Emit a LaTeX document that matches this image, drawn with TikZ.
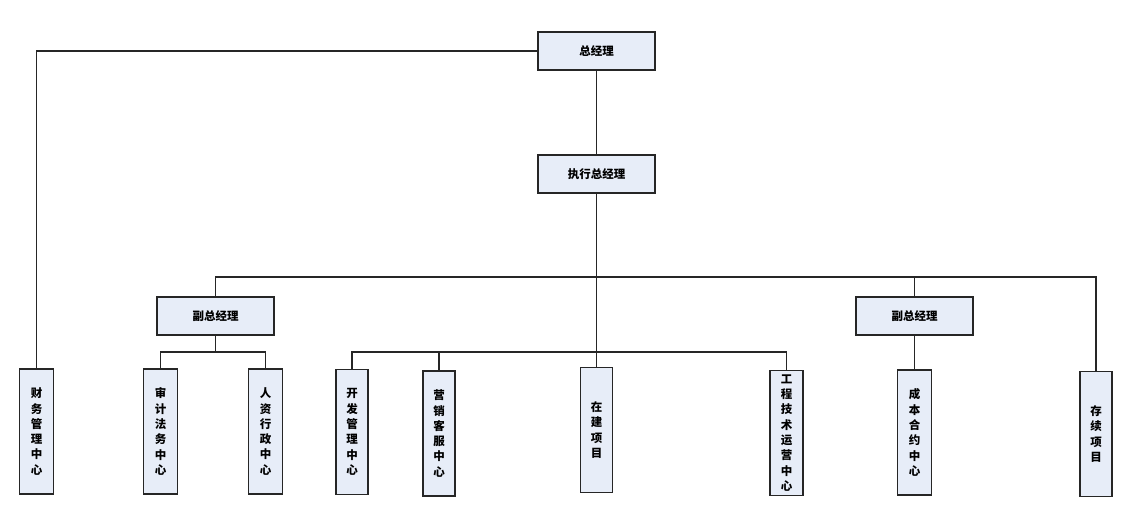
\documentclass[tikz,border=0pt]{standalone}
\usepackage{fontspec}
\newfontfamily\cjk{Noto Sans CJK SC}
\usetikzlibrary{positioning}
\definecolor{boxblue}{RGB}{231,237,248}
\tikzset{
  box/.style={draw=black!85, fill=boxblue, line width=1.2pt, inner sep=0pt,
    font=\cjk\bfseries\fontsize{11.5}{15.3}\selectfont, align=center},
  headbox/.style={box, minimum width=117pt, minimum height=38pt},
  unitbox/.style={box, minimum width=34pt, minimum height=125pt},
  link/.style={draw=black!85, line width=1.2pt}
}
\begin{document}
\begin{tikzpicture}[x=1pt,y=-1pt]
  \useasboundingbox (0,0) rectangle (1139,513);
  \node[headbox] (zjl) at (596.5,51) {总经理};
  \node[headbox] (zx) at (596.5,174) {执行总经理};
  \node[headbox] (fzl) at (215.5,316) {副总经理};
  \node[headbox] (fzr) at (914.5,316) {副总经理};
  \node[unitbox] (cw) at (36.5,431.5) {财\\务\\管\\理\\中\\心};
  \node[unitbox] (sj) at (160.5,431.5) {审\\计\\法\\务\\中\\心};
  \node[unitbox] (rz) at (265.5,431.5) {人\\资\\行\\政\\中\\心};
  \node[unitbox, minimum width=32pt] (kf) at (352,432) {开\\发\\管\\理\\中\\心};
  \node[unitbox, minimum width=32pt] (yx) at (439,433.5) {营\\销\\客\\服\\中\\心};
  \node[unitbox, minimum width=32pt] (zj) at (596.5,430) {在\\建\\项\\目};
  \node[unitbox, minimum width=33pt] (gc) at (786.5,433) {工\\程\\技\\术\\运\\营\\中\\心};
  \node[unitbox] (cb) at (914.5,432.5) {成\\本\\合\\约\\中\\心};
  \node[unitbox, minimum width=32pt] (cx) at (1096,434) {存\\续\\项\\目};
  \coordinate (b1) at (596.5,277);
  \coordinate (b2) at (215.5,352);
  \coordinate (b3) at (596.5,352);
  \draw[link] (zjl.west) -| (cw.north);
  \draw[link] (zjl.south) -- (zx.north);
  \draw[link] (zx.south) -- (zj.north);
  \draw[link] (fzl.north) |- (b1) -| (cx.north);
  \draw[link] (fzr.north) -- (fzr.north |- b1);
  \draw[link] (fzl.south) -- (b2);
  \draw[link] (sj.north) |- (b2) -| (rz.north);
  \draw[link] (kf.north) |- (b3) -| (gc.north);
  \draw[link] (yx.north) -- (yx.north |- b3);
  \draw[link] (fzr.south) -- (cb.north);
\end{tikzpicture}
\end{document}
